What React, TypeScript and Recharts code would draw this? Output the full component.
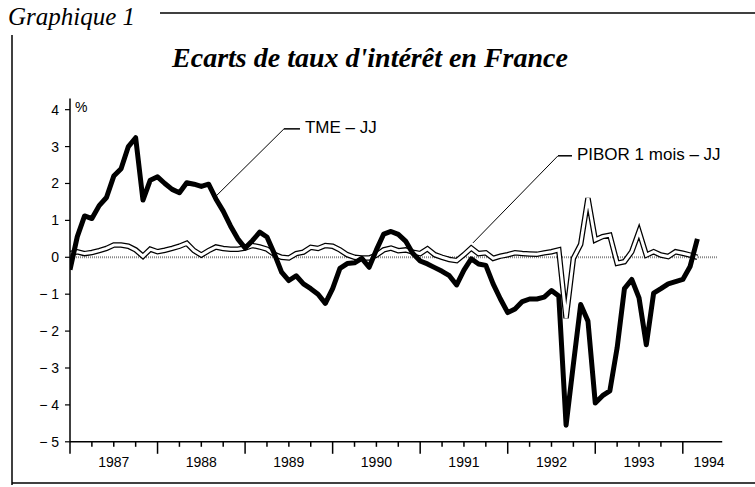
import { LineChart, Line, XAxis, YAxis, ReferenceLine, ReferenceDot } from "recharts";

const startYear = 1987;

// TME - JJ spread, monthly from Jan 1987
const tme = [
  -0.34, 0.56, 1.12, 1.05, 1.4, 1.62, 2.2, 2.4, 3.0, 3.24, 1.55, 2.09,
  2.18, 2.0, 1.84, 1.75, 2.02, 1.98, 1.92, 1.98, 1.58, 1.25, 0.85, 0.5,
  0.25, 0.45, 0.68, 0.55, 0.1, -0.4, -0.63, -0.5, -0.72, -0.85, -1.0, -1.25,
  -0.85, -0.3, -0.17, -0.15, -0.03, -0.27, 0.2, 0.63, 0.7, 0.62, 0.44, 0.1,
  -0.1, -0.18, -0.28, -0.38, -0.5, -0.75, -0.35, -0.04, -0.18, -0.22, -0.72, -1.13,
  -1.5, -1.4, -1.2, -1.13, -1.13, -1.08, -0.9, -1.05, -4.55, -2.9, -1.28, -1.73,
  -3.95, -3.75, -3.62, -2.45, -0.85, -0.6, -1.1, -2.37, -0.97, -0.85, -0.72, -0.66,
  -0.6, -0.25, 0.5,
];

// PIBOR 1 mois - JJ spread, monthly from Jan 1987
const pibor = [
  0.1, 0.15, 0.1, 0.13, 0.18, 0.24, 0.33, 0.33, 0.3, 0.2, 0.03, 0.22,
  0.15, 0.19, 0.24, 0.3, 0.38, 0.18, 0.06, 0.18, 0.28, 0.24, 0.22, 0.22,
  0.25, 0.32, 0.28, 0.22, 0.08, 0.0, -0.02, 0.1, 0.14, 0.27, 0.24, 0.32,
  0.3, 0.2, 0.07, 0.0, -0.02, -0.02, 0.06, 0.2, 0.25, 0.18, 0.2, 0.14,
  0.1, 0.23, 0.07, 0.0, -0.06, -0.09, 0.07, 0.25, 0.1, 0.12, -0.03, 0.03,
  0.07, 0.12, 0.1, 0.09, 0.08, 0.12, 0.15, 0.2, -1.65, -0.03, 0.35, 1.6,
  0.47, 0.56, 0.6, -0.16, -0.12, 0.15, 0.7, 0.06, 0.15, 0.06, 0.02, 0.15,
  0.11, 0.06, 0.0,
];

const yTicks = [-5, -4, -3, -2, -1, 0, 1, 2, 3, 4];

// quarter ticks; the last one only carries the 1994 label
const xTicks = [
  1987, 1987.25, 1987.5, 1987.75, 1988, 1988.25, 1988.5, 1988.75,
  1989, 1989.25, 1989.5, 1989.75, 1990, 1990.25, 1990.5, 1990.75,
  1991, 1991.25, 1991.5, 1991.75, 1992, 1992.25, 1992.5, 1992.75,
  1993, 1993.25, 1993.5, 1993.75, 1994, 1994.3,
];

// callout leader lines (data coordinates)
const tmeLeader = [
  { x: 1988.656, y: 1.63 },
  { x: 1989.444, y: 3.48 },
  { x: 1989.627, y: 3.48 },
];
const piborLeader = [
  { x: 1991.603, y: 0.39 },
  { x: 1992.574, y: 2.75 },
  { x: 1992.734, y: 2.75 },
];

const data = tme.map((v, i) => ({
  t: startYear + i / 12,
  tme: v,
  pibor: pibor[i],
}));

const sans = "'Liberation Sans', Arial, Helvetica, sans-serif";
const serif = "'Liberation Serif', 'Times New Roman', serif";

function YearTick(props: any) {
  const { x, y, payload } = props;
  const v = payload.value;
  const isYear = Number.isInteger(v);
  const quarter = Math.abs(v * 4 - Math.round(v * 4)) < 1e-6;
  const isLabel = (quarter && Math.abs((v % 1) - 0.5) < 1e-6) || v > 1994;
  return (
    <g>
      {v <= 1994 && (
        <line x1={x} x2={x} y1={y} y2={y + (isYear ? 12 : 5)} stroke="#000" strokeWidth={1.5} />
      )}
      {isLabel && (
        <text x={x} y={y + 25} textAnchor="middle" fontSize={14} fontFamily={sans} fill="#000">
          {Math.floor(v)}
        </text>
      )}
    </g>
  );
}

const labelShape = (text: string, dx: number, dy: number, size: number) => (p: any) => (
  <text x={p.cx + dx} y={p.cy + dy} fontSize={size} fontFamily={sans} fill="#000">
    {text}
  </text>
);

export default function App() {
  return (
    <div style={{ position: "absolute", left: 0, top: 0, width: 755, height: 487, background: "#fff" }}>
      <LineChart
        width={755}
        height={487}
        data={data}
        margin={{ top: 98.6, right: 32.8, bottom: 15.2, left: 0 }}
      >
        <XAxis
          type="number"
          dataKey="t"
          domain={[1987, 1994.45]}
          ticks={xTicks}
          interval={0}
          tickSize={0}
          tickMargin={0}
          tickLine={false}
          tick={<YearTick />}
          height={30}
          allowDataOverflow
          axisLine={{ stroke: "#000", strokeWidth: 1.5 }}
        />
        <YAxis
          type="number"
          domain={[-5, 4.3]}
          ticks={yTicks}
          interval={0}
          width={70}
          tickSize={5}
          tickMargin={6}
          allowDataOverflow
          tickFormatter={(v: number) => (v < 0 ? `\u2212 ${-v}` : `${v}`)}
          tick={{ fill: "#000", fontSize: 14, fontFamily: sans }}
          tickLine={{ stroke: "#000", strokeWidth: 1.2 }}
          axisLine={{ stroke: "#000", strokeWidth: 1.5 }}
        />
        <ReferenceLine
          segment={[{ x: 1987, y: 0 }, { x: 1994.39, y: 0 }]}
          stroke="#888"
          strokeWidth={2}
          strokeDasharray="1 1"
        />
        <ReferenceLine segment={[tmeLeader[0], tmeLeader[1]]} stroke="#000" strokeWidth={1} ifOverflow="visible" />
        <ReferenceLine segment={[tmeLeader[1], tmeLeader[2]]} stroke="#000" strokeWidth={1.5} ifOverflow="visible" />
        <ReferenceLine segment={[piborLeader[0], piborLeader[1]]} stroke="#000" strokeWidth={1} ifOverflow="visible" />
        <ReferenceLine segment={[piborLeader[1], piborLeader[2]]} stroke="#000" strokeWidth={1.5} ifOverflow="visible" />
        <Line
          type="linear"
          dataKey="pibor"
          stroke="#000"
          strokeWidth={5.5}
          dot={false}
          isAnimationActive={false}
          strokeLinejoin="miter"
        />
        <Line
          type="linear"
          dataKey="pibor"
          stroke="#fff"
          strokeWidth={3}
          dot={false}
          isAnimationActive={false}
          strokeLinejoin="miter"
        />
        <Line
          type="linear"
          dataKey="tme"
          stroke="#000"
          strokeWidth={5}
          dot={false}
          isAnimationActive={false}
          strokeLinejoin="round"
        />
        <ReferenceDot x={1987} y={4} r={0} ifOverflow="visible" shape={labelShape("%", 5, 2, 14)} />
        <ReferenceDot
          x={tmeLeader[2].x}
          y={tmeLeader[2].y}
          r={0}
          ifOverflow="visible"
          shape={labelShape("TME \u2013 JJ", 5, 4, 17)}
        />
        <ReferenceDot
          x={piborLeader[2].x}
          y={piborLeader[2].y}
          r={0}
          ifOverflow="visible"
          shape={labelShape("PIBOR 1 mois \u2013 JJ", 5, 4, 17)}
        />
      </LineChart>
      <svg
        width={755}
        height={487}
        style={{ position: "absolute", left: 0, top: 0, pointerEvents: "none" }}
      >
        <text x={8} y={25} fontSize={25} fontStyle="italic" fontFamily={serif} fill="#000">
          Graphique 1
        </text>
        <line x1={160} x2={755} y1={13} y2={13} stroke="#000" strokeWidth={1.5} />
        <line x1={12} x2={12} y1={35} y2={485} stroke="#000" strokeWidth={1.5} />
        <line x1={12} x2={755} y1={483} y2={483} stroke="#000" strokeWidth={1.5} />
        <text
          x={370}
          y={67}
          textAnchor="middle"
          fontSize={28}
          fontWeight="bold"
          fontStyle="italic"
          fontFamily={serif}
          fill="#000"
        >
          Ecarts de taux d'intérêt en France
        </text>
      </svg>
    </div>
  );
}
